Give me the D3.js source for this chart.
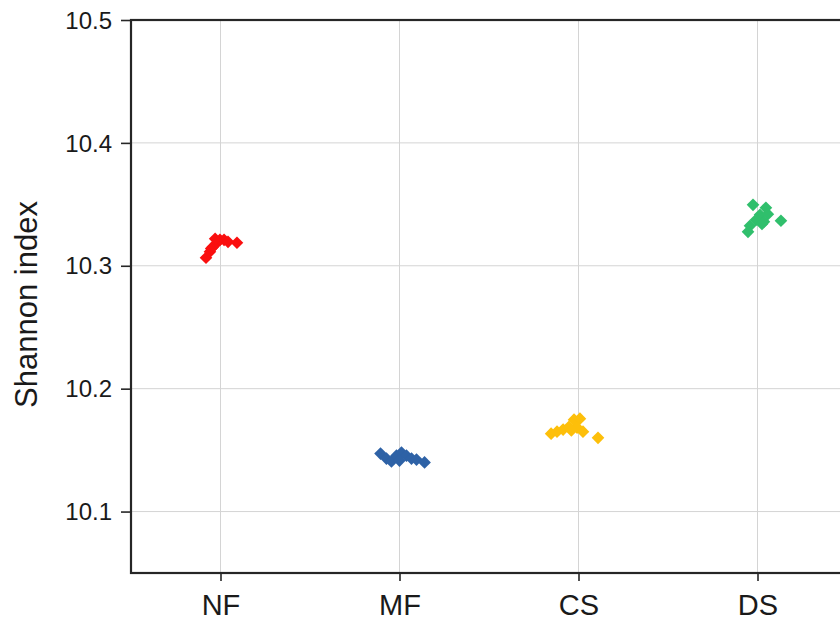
<!DOCTYPE html>
<html>
<head>
<meta charset="utf-8">
<script src="https://cdn.jsdelivr.net/npm/d3@7"></script>
<style>
  html, body { margin: 0; padding: 0; background: #fff; }
  svg { display: block; font-family: "Liberation Sans", Arial, sans-serif; }
</style>
</head>
<body>
<svg id="chart" width="840" height="621"></svg>
<script>
// Groups along the x axis
const categories = ["NF", "MF", "CS", "DS"];
const colors = ["#fa0f0f", "#2e62a6", "#fdbf0a", "#30bf6c"];

// Shannon index per sample, one list per group
const nfValues = [10.3065, 10.3114, 10.3154, 10.3179, 10.3211, 10.3211, 10.3195, 10.3187, 10.3220, 10.3140];
const mfValues = [10.1472, 10.1431, 10.1407, 10.1455, 10.1480, 10.1455, 10.1431, 10.1423, 10.1400, 10.1415];
const csValues = [10.1634, 10.1650, 10.1667, 10.1690, 10.1748, 10.1756, 10.1683, 10.1650, 10.1600, 10.1660];
const dsValues = [10.3496, 10.3472, 10.3415, 10.3374, 10.3358, 10.3325, 10.3366, 10.3276, 10.3420, 10.3340];

// Horizontal jitter of each sample, as a fraction of the group spacing
const nfJitter = [-0.081, -0.059, -0.042, -0.025, -0.003, 0.020, 0.042, 0.092, -0.030, -0.052];
const mfJitter = [-0.106, -0.073, -0.045, -0.017, 0.011, 0.039, 0.067, 0.095, 0.140, 0.000];
const csJitter = [-0.153, -0.120, -0.086, -0.053, -0.025, 0.008, -0.008, 0.025, 0.109, -0.040];
const dsJitter = [-0.025, 0.047, 0.014, -0.008, 0.036, -0.042, 0.131, -0.053, 0.058, 0.025];

const yTicks = [10.1, 10.2, 10.3, 10.4, 10.5];
const yDomain = [10.05, 10.5];
const yLabel = "Shannon index";

const groups = [
  { cat: "NF", values: nfValues, jitter: nfJitter },
  { cat: "MF", values: mfValues, jitter: mfJitter },
  { cat: "CS", values: csValues, jitter: csJitter },
  { cat: "DS", values: dsValues, jitter: dsJitter }
];

const svg = d3.select("#chart");
const plotLeft = 131, plotTop = 20, plotBottom = 573, plotRight = 847;
const ink = "#262626";

const x = d3.scalePoint().domain(categories).range([plotLeft, plotRight]).padding(0.5);
const y = d3.scaleLinear().domain(yDomain).range([plotBottom, plotTop]);
const color = d3.scaleOrdinal().domain(categories).range(colors);

// Grid lines
const grid = svg.append("g");
grid.selectAll("line.h").data(yTicks).join("line")
  .attr("x1", plotLeft).attr("x2", plotRight)
  .attr("y1", d => y(d)).attr("y2", d => y(d))
  .attr("stroke", "#d4d4d4").attr("stroke-width", 1);
grid.selectAll("line.v").data(categories).join("line")
  .attr("x1", d => x(d)).attr("x2", d => x(d))
  .attr("y1", plotTop).attr("y2", plotBottom)
  .attr("stroke", "#d4d4d4").attr("stroke-width", 1);

// Frame around the panel
svg.append("rect")
  .attr("x", plotLeft).attr("y", plotTop)
  .attr("width", plotRight - plotLeft).attr("height", plotBottom - plotTop)
  .attr("fill", "none").attr("stroke", ink).attr("stroke-width", 2.2);

// Axes
const yAxis = svg.append("g")
  .attr("transform", `translate(${plotLeft},0)`)
  .call(d3.axisLeft(y).tickValues(yTicks).tickFormat(d3.format(".1f")).tickSize(10).tickPadding(9));
const xAxis = svg.append("g")
  .attr("transform", `translate(0,${plotBottom})`)
  .call(d3.axisBottom(x).tickSize(8).tickPadding(13));

[yAxis, xAxis].forEach(g => {
  g.select(".domain").remove();
  g.selectAll(".tick line").attr("stroke", ink).attr("stroke-width", 1.6);
  g.selectAll(".tick text").attr("fill", "#1a1a1a")
    .style("font-family", "'Liberation Sans', Arial, sans-serif");
});
yAxis.selectAll(".tick text").style("font-size", "24px").attr("dy", "0.34em");
xAxis.selectAll(".tick text").style("font-size", "29px").attr("dy", "0.72em");

// Y axis title
svg.append("text")
  .attr("transform", `translate(37,${(plotTop + plotBottom) / 2 + 8}) rotate(-90)`)
  .attr("text-anchor", "middle")
  .style("font-size", "31px")
  .attr("fill", "#1a1a1a")
  .text(yLabel);

// Diamond markers
const diamond = d3.symbol().type(d3.symbolSquare).size(80);
const step = x.step();
const points = groups.flatMap(g => g.values.map((v, i) => ({ cat: g.cat, value: v, jit: g.jitter[i] })));

svg.append("g").selectAll("path").data(points).join("path")
  .attr("d", diamond)
  .attr("transform", d => `translate(${x(d.cat) + d.jit * step},${y(d.value)}) rotate(45)`)
  .attr("fill", d => color(d.cat));
</script>
</body>
</html>
